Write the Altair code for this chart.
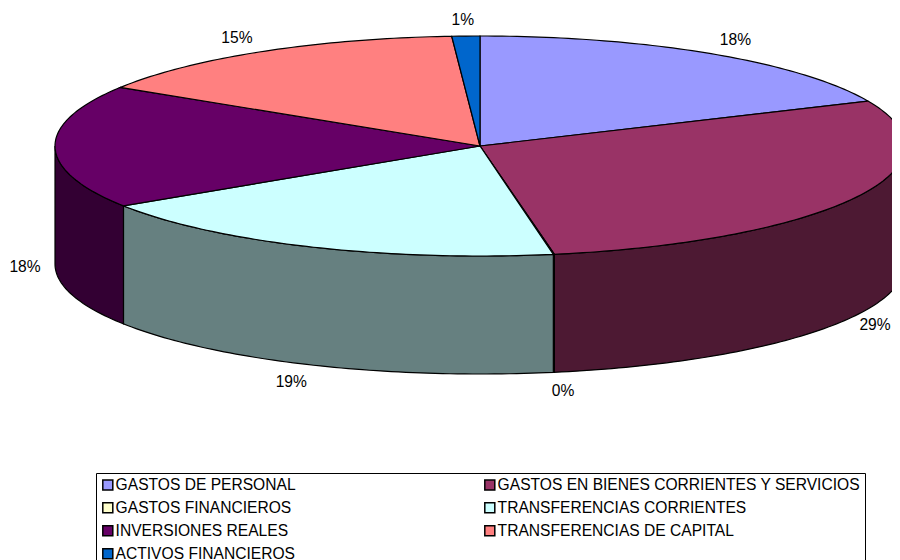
import math
import altair as alt

names = ["GASTOS DE PERSONAL", "GASTOS EN BIENES CORRIENTES Y SERVICIOS", "GASTOS FINANCIEROS",
         "TRANSFERENCIAS CORRIENTES", "INVERSIONES REALES", "TRANSFERENCIAS DE CAPITAL", "ACTIVOS FINANCIEROS"]
shares = [18.3, 28.9, 0.04, 18.6, 18.1, 15.0, 1.06]
top_colors = ["#9999FF", "#993366", "#FFFFCC", "#CCFFFF", "#660066", "#FF8080", "#0066CC"]
side_colors = ["#4D4D80", "#4D1933", "#808066", "#668080", "#330033", "#804040", "#003366"]

W, H = 884, 552
CX, CY, RX, RY, DEPTH = 472.0, 138.0, 425.0, 110.0, 118.0
LABEL_SHIFT = [8, 0, 4, -7, 0, -10, -2]


def pt(deg, drop=0.0):
    t = math.radians(deg)
    return [CX + RX * math.sin(t), CY - RY * math.cos(t) + drop]


def arc(a, b, drop=0.0):
    n = max(2, int(abs(b - a)) + 2)
    return [pt(a + (b - a) * i / (n - 1), drop) for i in range(n)]


tops, sides, labels = [], [], []
start = 0.0
total = sum(shares)
for name, share, side, shift in zip(names, shares, side_colors, LABEL_SHIFT):
    end = start + share / total * 360
    ring = [[CX, CY]] + arc(start, end) + [[CX, CY]]
    tops.append({"type": "Feature", "geometry": {"type": "Polygon", "coordinates": [ring]},
                 "properties": {"name": name}})
    lo, hi = max(start, 90.0), min(end, 270.0)
    if hi > lo:
        ring = arc(lo, hi) + arc(hi, lo, DEPTH)
        ring.append(ring[0])
        sides.append({"type": "Feature", "geometry": {"type": "Polygon", "coordinates": [ring]},
                      "properties": {"side": side}})
    mid = math.radians((start + end) / 2)
    c = math.cos(mid)
    labels.append({"label": f"{round(share)}%",
                   "lon": min(CX + (RX + 30) * math.sin(mid) + shift, W - 17),
                   "lat": CY - (RY + 17) * c + (DEPTH + 1 if c < 0 else 0) + 1})
    start = end

proj = alt.Projection(type="identity", scale=1, translate=[0, 0])

side_layer = alt.Chart(alt.Data(values=sides)).mark_geoshape(stroke="black", strokeWidth=1.2).encode(
    color=alt.Color("properties.side:N", scale=None, legend=None)
).project(**proj.to_dict())

top_layer = alt.Chart(alt.Data(values=tops)).mark_geoshape(stroke="black", strokeWidth=1.2).encode(
    color=alt.Color(
        "properties.name:N",
        scale=alt.Scale(domain=names, range=top_colors),
        legend=alt.Legend(
            title=None, orient="none", legendX=88, legendY=465, columns=2, direction="horizontal",
            symbolType="square", symbolSize=100, symbolStrokeColor="black", symbolStrokeWidth=1.5,
            symbolOpacity=1, labelFont="Liberation Sans", labelFontSize=15.6, labelColor="black",
            labelLimit=500, labelOffset=0, strokeColor="black", fillColor="white", padding=4,
            rowPadding=5, columnPadding=185,
        ),
    )
).project(**proj.to_dict())

text_layer = alt.Chart(alt.Data(values=labels)).mark_text(
    font="Liberation Sans", fontSize=15.6, color="black"
).encode(
    longitude=alt.Longitude("lon:Q"), latitude=alt.Latitude("lat:Q"), text=alt.Text("label:N")
).project(**proj.to_dict())

chart = alt.layer(side_layer, top_layer, text_layer).resolve_scale(color="independent").properties(
    width=W, height=H, padding=0, autosize=alt.AutoSizeParams(type="none"), background="white"
).configure_view(stroke=None)

chart.save("out.html", embed_options={"renderer": "svg", "actions": False})
